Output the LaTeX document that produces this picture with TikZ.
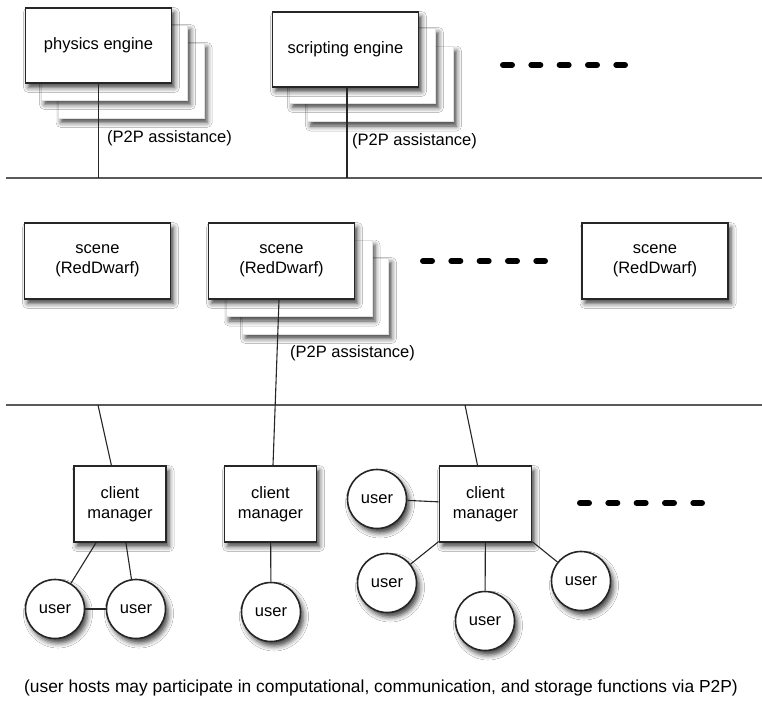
\documentclass[tikz,border=0pt]{standalone}
\usepackage{fontspec}
\setmainfont{Liberation Sans}
\usetikzlibrary{shadows.blur}
\begin{document}
\begin{tikzpicture}[x=1pt,y=-1pt,
  every node/.style={font=\fontsize{16.5}{20}\selectfont},
  shad/.style={blur shadow={shadow xshift=3pt,shadow yshift=-4.5pt,shadow blur radius=5pt,shadow opacity=75}},
  mainbox/.style={shad, draw=black!85, line width=1.6pt, fill=white, minimum width=146pt, minimum height=75pt, align=center, inner sep=0pt},
  copybox/.style={shad, draw=black!12, line width=0.6pt, fill=white, minimum width=146pt, minimum height=75pt, inner sep=0pt},
  cmbox/.style={shad, draw=black!85, line width=1.6pt, fill=white, minimum width=92pt, minimum height=76pt, align=center, inner sep=0pt},
  usr/.style={shad, circle, draw=black!85, line width=1.6pt, fill=white, minimum size=59pt, inner sep=0pt},
  conn/.style={draw=black!85, line width=1.1pt},
  bus/.style={draw=black!65, line width=1.8pt},
  dots/.style={line width=6pt, line cap=round, dash pattern=on 9pt off 19.33pt},
  lbl/.style={anchor=west, inner sep=0pt}
]
\path[use as bounding box, fill=white] (0,0) rectangle (762,710);

% ---------- top layer ----------
\node[copybox] (phys3) at (131,80.5) {};
\node[copybox] (phys2) at (114.5,62.5) {};
\node[mainbox] (phys) at (98.5,45.5) {physics engine};

\node[copybox] (scr3) at (380.5,84) {};
\node[copybox] (scr2) at (362.5,65.5) {};
\node[mainbox] (scr) at (345.5,49.5) {scripting engine};

\node[lbl] (l1) at (107,138) {(P2P assistance)};
\node[lbl] (l2) at (352,141) {(P2P assistance)};

\coordinate (da) at (503,65);
\draw[dots] (da) -- ++(122,0);

\coordinate (busAL) at (6,178);
\coordinate (busAR) at (762,178);
\draw[bus] (busAL) -- (busAR);

% ---------- middle layer ----------
\node[mainbox, minimum height=76pt] (scn1) at (97.5,261) {scene\\(RedDwarf)};
\node[copybox, minimum height=76pt] (scn2c) at (315.5,296) {};
\node[copybox, minimum height=76pt] (scn2b) at (299,278.5) {};
\node[mainbox, minimum height=76pt] (scn2) at (281.5,261) {scene\\(RedDwarf)};
\node[mainbox, minimum height=76pt] (scn3) at (655,261) {scene\\(RedDwarf)};

\coordinate (db) at (423,261);
\draw[dots] (db) -- ++(122,0);

\node[lbl] (l3) at (290,353) {(P2P assistance)};

\coordinate (busBL) at (6,405);
\coordinate (busBR) at (762,405);
\draw[bus] (busBL) -- (busBR);
\coordinate (b1) at (98,405);
\coordinate (b3) at (465,405);

% ---------- bottom layer ----------
\node[cmbox] (cm1) at (120,504) {client\\manager};
\node[cmbox] (cm2) at (270.5,504) {client\\manager};
\node[cmbox] (cm3) at (485.5,504) {client\\manager};

\node[usr] (u1) at (55,609) {user};
\node[usr] (u2) at (136,609) {user};
\node[usr] (u3) at (271,612) {user};
\node[usr] (u4) at (377,499) {user};
\node[usr] (u5) at (387,583) {user};
\node[usr] (u6) at (485,621) {user};
\node[usr] (u7) at (581,581) {user};

\coordinate (dc) at (580,503);
\draw[dots] (dc) -- ++(122,0);

% ---------- connectors ----------
\draw[conn] (phys.south) -- (phys.south |- busAL);
\draw[conn] ([xshift=1.5pt]scr.south) -- ([xshift=1.5pt]scr.south |- busAL);
\draw[conn] ([xshift=-2.5pt]scn2.south) -- ([xshift=2.5pt]cm2.north);
\draw[conn] (b1) -- (cm1);
\draw[conn] (b3) -- (cm3);
\draw[conn] (cm1) -- (u1);
\draw[conn] (cm1) -- (u2);
\draw[conn] (u1) -- (u2);
\draw[conn] (cm2) -- (u3);
\draw[conn] (u4) -- (cm3);
\draw[conn] (cm3) -- (u5);
\draw[conn] (cm3) -- (u6);
\draw[conn] (cm3) -- (u7);

\node (cap) at (381,688) {\fontsize{17.4}{20}\selectfont (user hosts may participate in computational, communication, and storage functions via P2P)};
\end{tikzpicture}
\end{document}
